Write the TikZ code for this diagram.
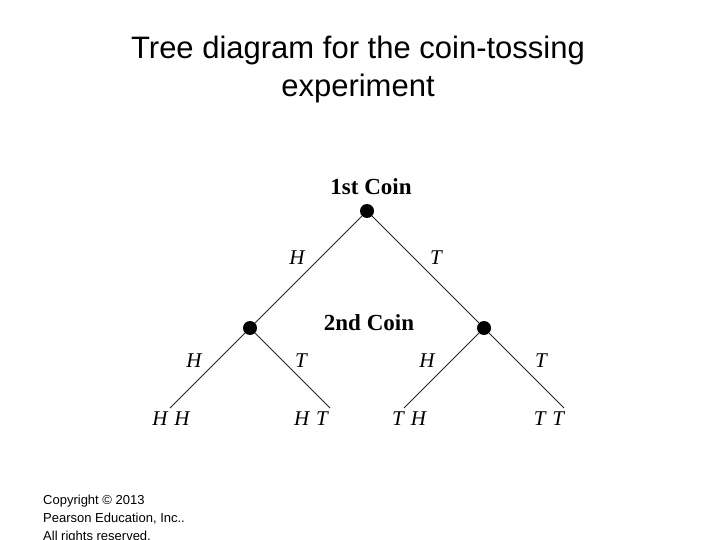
\documentclass[tikz,border=0pt]{standalone}
\usepackage{fontspec}
\setmainfont{Liberation Serif}
\newfontfamily\arialf{Liberation Sans}
\begin{document}
\begin{tikzpicture}[x=1pt,y=-1pt,
  dot/.style={circle,fill=black,inner sep=0pt,minimum size=14pt},
  lbl/.style={font=\fontsize{21}{22}\selectfont\itshape,inner sep=0pt},
  hdr/.style={font=\fontsize{23}{24}\selectfont\bfseries,inner sep=0pt},
  br/.style={line width=1pt,black!85}]
\useasboundingbox[fill=white] (0,0) rectangle (720,540);
\node[font=\arialf\fontsize{31}{38}\selectfont,align=center] (title) at (358,69) {Tree diagram for the coin-tossing\\experiment};
\node[hdr] (c1) at (371,187) {1st Coin};
\node[hdr] (c2) at (369,323) {2nd Coin};
\node[dot] (r) at (367,211) {};
\node[dot] (a) at (250,328) {};
\node[dot] (b) at (484,328) {};
\coordinate (l1) at (170,408);
\coordinate (l2) at (330,408);
\coordinate (l3) at (404,408);
\coordinate (l4) at (564,408);
\draw[br] (r) -- (a); \draw[br] (r) -- (b);
\draw[br] (a) -- (l1); \draw[br] (a) -- (l2);
\draw[br] (b) -- (l3); \draw[br] (b) -- (l4);
\node[lbl] (h1) at (297,258) {H};
\node[lbl] (t1) at (436,258) {T};
\node[lbl] (h2) at (194,361) {H};
\node[lbl] (t2) at (301,361) {T};
\node[lbl] (h3) at (427,361) {H};
\node[lbl] (t3) at (541,361) {T};
\node[lbl] (hh) at (171,419) {H\,\,H};
\node[lbl] (ht) at (311,419) {H\,\,T};
\node[lbl] (th) at (409,419) {T\,\,H};
\node[lbl] (tt) at (549,419) {T\,\,T};
\node[font=\arialf\fontsize{13}{18}\selectfont,align=left,anchor=north west,inner sep=0pt] (copy) at (43,495) {Copyright © 2013\\Pearson Education, Inc..\\All rights reserved.};
\end{tikzpicture}
\end{document}
